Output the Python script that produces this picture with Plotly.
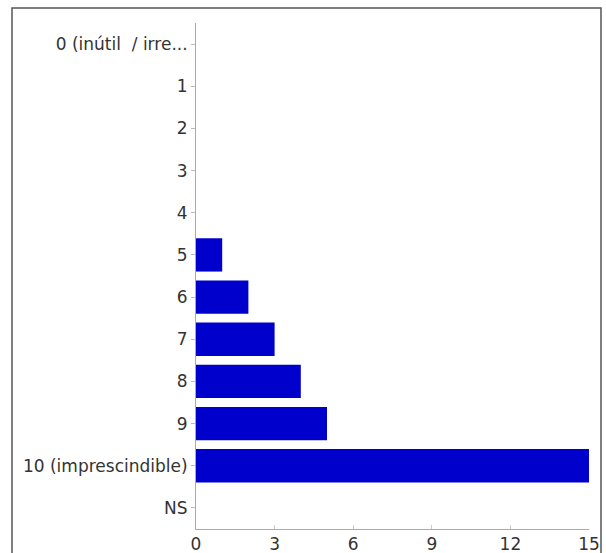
import plotly.graph_objects as go

categories = ["0 (inútil\u00a0 / irre...", "1", "2", "3", "4", "5", "6", "7", "8", "9",
              "10 (imprescindible)", "NS"]
counts = [0, 0, 0, 0, 0, 1, 2, 3, 4, 5, 15, 0]
x_ticks = [0, 3, 6, 9, 12, 15]

W, H = 606, 553
L, R, T, B = 196, 17, 23, 24
pw, ph = W - L - R, H - T - B

fig = go.Figure(go.Bar(
    x=counts, y=categories, orientation="h",
    marker=dict(color="#0000cc", line=dict(width=0)),
    width=0.79,
))

def px_x(p):
    return (p - L) / pw

def px_y(p):
    return (H - B - p) / ph

fig.add_shape(type="rect", xref="paper", yref="paper",
              x0=px_x(12), x1=px_x(601), y0=px_y(570), y1=px_y(8),
              line=dict(color="#555555", width=1.5), fillcolor="rgba(0,0,0,0)", layer="above")

fig.update_layout(
    width=W, height=H,
    margin=dict(l=L, r=R, t=T, b=B, pad=0, autoexpand=False),
    paper_bgcolor="white", plot_bgcolor="white",
    showlegend=False,
    font=dict(family="DejaVu Sans, Liberation Sans, Arial, sans-serif", size=17, color="#333333"),
    xaxis=dict(range=[0, 15], tickvals=x_ticks, showgrid=False, zeroline=False,
               automargin=False,
               showline=True, linecolor="#aaaaaa", linewidth=1,
               ticks="inside", ticklen=4, tickcolor="#cccccc",
               tickfont=dict(size=17, color="#333333")),
    yaxis=dict(categoryorder="array", categoryarray=categories, autorange="reversed",
               automargin=False,
               showgrid=False, zeroline=False, showline=True, linecolor="#aaaaaa",
               linewidth=1, ticks="outside", ticklen=4, tickcolor="#bbbbbb",
               tickfont=dict(size=17, color="#333333")),
)

fig.write_html("out.html", config={"displayModeBar": False},
               post_script="document.body.style.margin='0';")
